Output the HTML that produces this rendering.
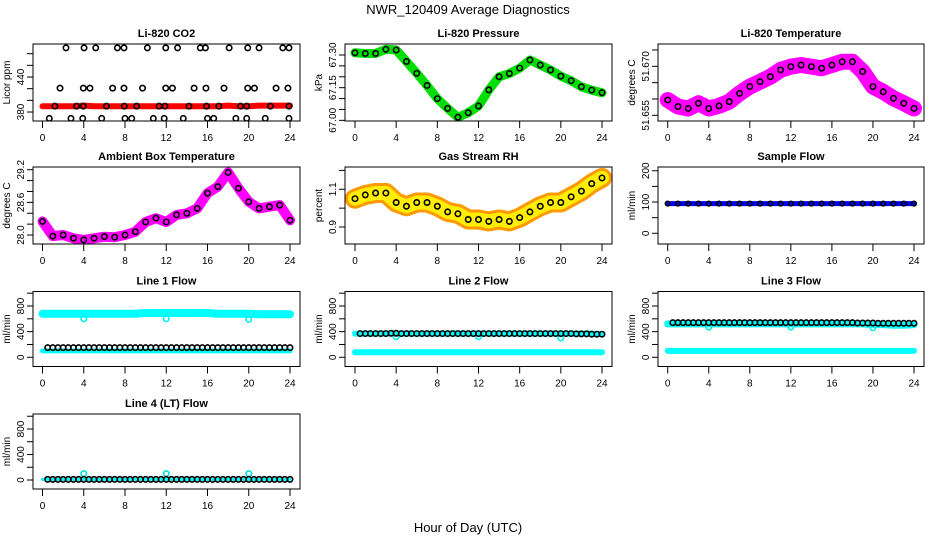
<!DOCTYPE html>
<html><head><meta charset="utf-8">
<style>
html,body{margin:0;padding:0;background:#fff;}
svg{display:block;font-family:"Liberation Sans",sans-serif;}
</style></head>
<body>
<svg id="chart" width="936" height="540" viewBox="0 0 936 540" xmlns="http://www.w3.org/2000/svg">
<text x="468" y="14" text-anchor="middle" font-size="13">NWR_120409  Average Diagnostics</text>
<text x="468" y="532" text-anchor="middle" font-size="13">Hour of Day (UTC)</text>
</svg>
<script>
// ---- data ----
const hours = [0,1,2,3,4,5,6,7,8,9,10,11,12,13,14,15,16,17,18,19,20,21,22,23,24];
const halfHours = [0.5,1,1.5,2,2.5,3,3.5,4,4.5,5,5.5,6,6.5,7,7.5,8,8.5,9,9.5,10,10.5,11,11.5,12,12.5,13,13.5,14,14.5,15,15.5,16,16.5,17,17.5,18,18.5,19,19.5,20,20.5,21,21.5,22,22.5,23,23.5,24];
const xTicks = [0,4,8,12,16,20,24];
const dipHours = [4,12,20];

const co2Line = [390,390,390,390,391,390,390,390,390,390,390,390,390,390,390,390,390,390,391,390,390,391,391,391,391];
const co2HighX = [2.28,4.03,5.16,7.26,7.9,10.17,11.95,13.1,15.3,15.8,18.1,19.9,21.0,23.3,23.9];
const co2HighY = [490,490,490,490,490,490,490,490,490,490,490,490,490,490,490];
const co2MidX = [1.7,3.96,4.6,6.8,7.9,9.7,11.95,12.6,14.7,15.85,17.6,19.9,20.55,22.65,23.8];
const co2MidY = [421,421,421,421,421,421,421,421,421,421,421,421,421,421,421];
const co2LowX = [0.66,2.76,3.9,5.74,8.0,8.65,10.75,11.8,13.65,16.0,16.6,18.75,19.8,21.6,23.9];
const co2LowY = [369,369,369,369,369,369,369,369,369,369,369,369,369,369,369];
const co2BaseX = [1.2,3.3,3.96,6.2,7.93,9.13,11.3,11.88,14.2,15.9,17.1,19.2,19.8,22.1,23.9];
const co2BaseY = [390,390,390,390,390,390,390,390,390,390,390,390,390,390,390];

const pressure = [67.31,67.307,67.307,67.326,67.323,67.27,67.216,67.16,67.10,67.055,67.014,67.035,67.066,67.14,67.20,67.215,67.24,67.277,67.254,67.231,67.203,67.182,67.154,67.139,67.127];
const liTemp = [51.6597,51.6577,51.6571,51.6587,51.6571,51.6579,51.6592,51.6617,51.6638,51.6653,51.6668,51.6689,51.6699,51.6704,51.6699,51.6694,51.6704,51.6714,51.6714,51.6684,51.6638,51.6622,51.6602,51.6587,51.6571];
const ambTemp = [28.25,27.98,28.0,27.94,27.91,27.94,27.97,27.96,28.0,28.06,28.24,28.31,28.24,28.37,28.40,28.49,28.77,28.89,29.15,28.86,28.61,28.49,28.52,28.55,28.27];
const gasRH = [1.05,1.07,1.08,1.08,1.03,1.01,1.03,1.03,1.01,0.98,0.97,0.94,0.94,0.93,0.94,0.93,0.95,0.98,1.01,1.03,1.03,1.06,1.09,1.13,1.16];
const sampleFlow = [95,95,95,95,95,95,95,95,95,95,95,95,95,95,95,95,95,95,95,95,95,95,95,95,95];

const line1High = [680,680,680,680,680,680,680,680,680,680,690,690,690,690,690,690,690,680,680,680,680,670,670,670,670];
const line1Dips = [600,600,590];
const line1Low = [100,100,100,100,100,100,100,100,100,100,100,100,100,100,100,100,100,100,100,100,100,100,100,100,100];
const line1Black = [150,150,150,150,150,150,150,150,150,150,150,150,150,150,150,150,150,150,150,150,150,150,150,150,150,150,150,150,150,150,150,150,150,150,150,150,150,150,150,150,150,150,150,150,150,150,150,150];
const line2High = [370,370,370,370,370,370,370,370,370,370,370,370,370,370,370,370,370,370,370,370,370,370,370,370,360];
const line2Dips = [320,320,300];
const line2Low = [80,80,80,80,80,80,80,80,80,80,80,80,80,80,80,80,80,80,80,80,80,80,80,80,80];
const line2Black = [370,370,370,370,370,370,375,375,370,370,370,370,370,370,370,370,370,370,370,370,370,370,370,370,370,370,370,370,370,370,370,370,370,370,370,370,370,370,370,370,370,370,365,365,365,360,360,360];
const line3High = [520,520,520,520,520,520,520,520,520,520,520,520,520,520,520,520,520,520,520,520,510,510,500,500,510];
const line3Dips = [470,470,460];
const line3Low = [100,100,100,100,100,100,100,100,100,100,100,100,100,100,100,100,100,100,100,100,100,100,100,100,100];
const line3Black = [540,540,540,540,540,540,540,540,540,540,540,540,540,540,540,540,540,540,540,540,540,540,540,540,540,540,540,540,540,540,540,540,540,540,540,540,535,535,535,535,530,530,530,530,530,530,530,530];
const line4Cyan = [10,10,10,10,10,10,10,10,10,10,10,10,10,10,10,10,10,10,10,10,10,10,10,10,10];
const line4Spikes = [100,100,100];
const line4Black = [10,10,10,10,10,10,10,10,10,10,10,10,10,10,10,10,10,10,10,10,10,10,10,10,10,10,10,10,10,10,10,10,10,10,10,10,10,10,10,10,10,10,10,10,10,10,10,10];

// ---- layout ----
const NS = "http://www.w3.org/2000/svg";
const svg = document.getElementById('chart');
const colL = [33,345,658], colR = [300,612,924];
const colX0 = [42.5,355,667.7], colX24 = [290,602,914];
const rowT = [44,167,291.5,414], rowB = [121,244,366.5,489];

function mk(tag, attrs, parent){
  const e = document.createElementNS(NS, tag);
  for (const k in attrs) e.setAttribute(k, attrs[k]);
  (parent||svg).appendChild(e);
  return e;
}

function panel(c, r, title, ytitle, ymin, ymax, ticks, labels, name){
  const g = mk('g', {});
  
  
  const L = colL[c], R = colR[c], T = rowT[r], B = rowB[r];
  const xs = h => colX0[c] + (colX24[c]-colX0[c]) * h / 24;
  const ys = v => B - (v - ymin) / (ymax - ymin) * (B - T);
  const t = mk('text', {x:(L+R)/2, y:T-7, 'text-anchor':'middle', 'font-size':11, 'font-weight':'bold'}, g);
  t.textContent = title;
  
  
  const yt = mk('text', {transform:`translate(${L-23},${(T+B)/2}) rotate(-90)`, 'text-anchor':'middle', 'font-size':10}, g);
  yt.textContent = ytitle;
  
  
  const plot = mk('g', {}, g);
  
  
  const xa = mk('g', {stroke:'#000','stroke-width':1}, g);
  
  
  xTicks.forEach(h => {
    mk('line', {x1:xs(h), x2:xs(h), y1:B, y2:B+7}, xa);
    const lt = mk('text', {x:xs(h), y:B+20, 'text-anchor':'middle', 'font-size':10, stroke:'none'}, xa);
    lt.textContent = h;
    
    
  });
  const ya = mk('g', {stroke:'#000','stroke-width':1}, g);
  
  
  ticks.forEach((v,i) => {
    const y = ys(v);
    mk('line', {x1:L-6, x2:L, y1:y, y2:y}, ya);
    if (labels[i]) {
      const lt = mk('text', {transform:`translate(${L-9},${y}) rotate(-90)`, 'text-anchor':'middle', 'font-size':10, stroke:'none'}, ya);
      lt.textContent = labels[i];
      
      
    }
  });
  const clip = 'clip' + c + r;
  const cp = mk('clipPath', {id:clip}, g);
  mk('rect', {x:L, y:T, width:R-L, height:B-T}, cp);
  plot.setAttribute('clip-path', `url(#${clip})`);
  const box = mk('rect', {x:L, y:T, width:R-L, height:B-T, fill:'none', stroke:'#000', 'stroke-width':1}, g);
  
  
  return {xs, ys, plot};
}

function band(p, xArr, yArr, color, w, name, dash){
  const pts = xArr.map((x,i) => p.xs(x).toFixed(1) + ',' + p.ys(yArr[i]).toFixed(1)).join(' ');
  const pl = mk('polyline', {points:pts, fill:'none', stroke:color, 'stroke-width':w, 'stroke-linejoin':'round', 'stroke-linecap':'round'}, p.plot);
  if (dash) pl.setAttribute('stroke-dasharray', dash);
  
  
}
function dots(p, xArr, yArr, color, name, r){
  const g = mk('g', {fill:'none', stroke:color, 'stroke-width':1.6}, p.plot);
  
  
  xArr.forEach((x,i) => {
    const c = mk('circle', {cx:p.xs(x), cy:p.ys(yArr[i]), r:r||2.7}, g);
    
    
  });
}

// CO2
let p = panel(0,0,'Li-820 CO2','Licor ppm',364.6,496.6,[380,400,420,440,460,480],['380','','','440','',''],'co2');
band(p, hours, co2Line, '#ff0000', 6, 'co2-series');
dots(p, co2HighX, co2HighY, '#000', 'co2-high-points');
dots(p, co2MidX, co2MidY, '#000', 'co2-mid-points');
dots(p, co2LowX, co2LowY, '#000', 'co2-low-points');
dots(p, co2BaseX, co2BaseY, '#000', 'co2-base-points');

// Pressure
p = panel(1,0,'Li-820 Pressure','kPa',66.997,67.3505,[67.00,67.05,67.10,67.15,67.20,67.25,67.30],['67.00','','','67.15','','','67.30'],'pressure');
band(p, hours, pressure, '#00dd00', 9, 'pressure-series');
dots(p, hours, pressure, '#000', 'pressure-points');

// Li temp
p = panel(2,0,'Li-820 Temperature','degrees C',51.65326,51.67683,[51.655,51.660,51.665,51.670,51.675],['51.655','','','51.670',''],'li-temp');
band(p, hours, liTemp, '#ff00ff', 16, 'li-temp-series');
dots(p, hours, liTemp, '#000', 'li-temp-points');

// Ambient
p = panel(0,1,'Ambient Box Temperature','degrees C',27.835,29.25,[28.0,28.2,28.4,28.6,28.8,29.0,29.2],['28.0','','','28.6','','','29.2'],'ambient');
band(p, hours, ambTemp, '#ff00ff', 10, 'ambient-series');
dots(p, hours, ambTemp, '#000', 'ambient-points');

// RH
p = panel(1,1,'Gas Stream RH','percent',0.81,1.218,[0.9,1.0,1.1,1.2],['0.9','','1.1',''],'rh');
band(p, hours, gasRH, '#ff9900', 20, 'rh-series');
band(p, hours, gasRH, '#ffee00', 14, 'rh-series-highlight', '2 2');
dots(p, hours, gasRH, '#000', 'rh-points');

// Sample flow
p = panel(2,1,'Sample Flow','ml/min',-34.2,212,[0,50,100,150,200],['0','','100','','200'],'sample-flow');
band(p, hours, sampleFlow, '#0000ff', 5, 'sample-flow-series');
dots(p, hours, sampleFlow, '#000', 'sample-flow-points', 2.3);

const fT = [0,200,400,600,800,1000], fL = ['0','','400','','800',''];
// Line1
p = panel(0,2,'Line 1 Flow','ml/min',-143.5,1026,fT,fL,'line1');
band(p, hours, line1High, '#00ffff', 8, 'line1-high-series');
dots(p, dipHours, line1Dips, '#00eeee', 'line1-dip-points');
band(p, hours, line1Low, '#00ffff', 5, 'line1-low-series');
dots(p, halfHours, line1Black, '#000', 'line1-points');
// Line2
p = panel(1,2,'Line 2 Flow','ml/min',-143.5,1026,fT,fL,'line2');
band(p, hours, line2High, '#00ffff', 6, 'line2-high-series');
dots(p, dipHours, line2Dips, '#00eeee', 'line2-dip-points');
band(p, hours, line2Low, '#00ffff', 6, 'line2-low-series');
dots(p, halfHours, line2Black, '#000', 'line2-points');
// Line3
p = panel(2,2,'Line 3 Flow','ml/min',-143.5,1026,fT,fL,'line3');
band(p, hours, line3High, '#00ffff', 7, 'line3-high-series');
dots(p, dipHours, line3Dips, '#00eeee', 'line3-dip-points');
band(p, hours, line3Low, '#00ffff', 6, 'line3-low-series');
dots(p, halfHours, line3Black, '#000', 'line3-points');
// Line4
p = panel(0,3,'Line 4 (LT) Flow','ml/min',-141,1035,fT,fL,'line4');
band(p, hours, line4Cyan, '#00ffff', 3, 'line4-series');
dots(p, dipHours, line4Spikes, '#00dddd', 'line4-spike-points');
dots(p, halfHours, line4Black, '#000', 'line4-points');
</script>
</body></html>
